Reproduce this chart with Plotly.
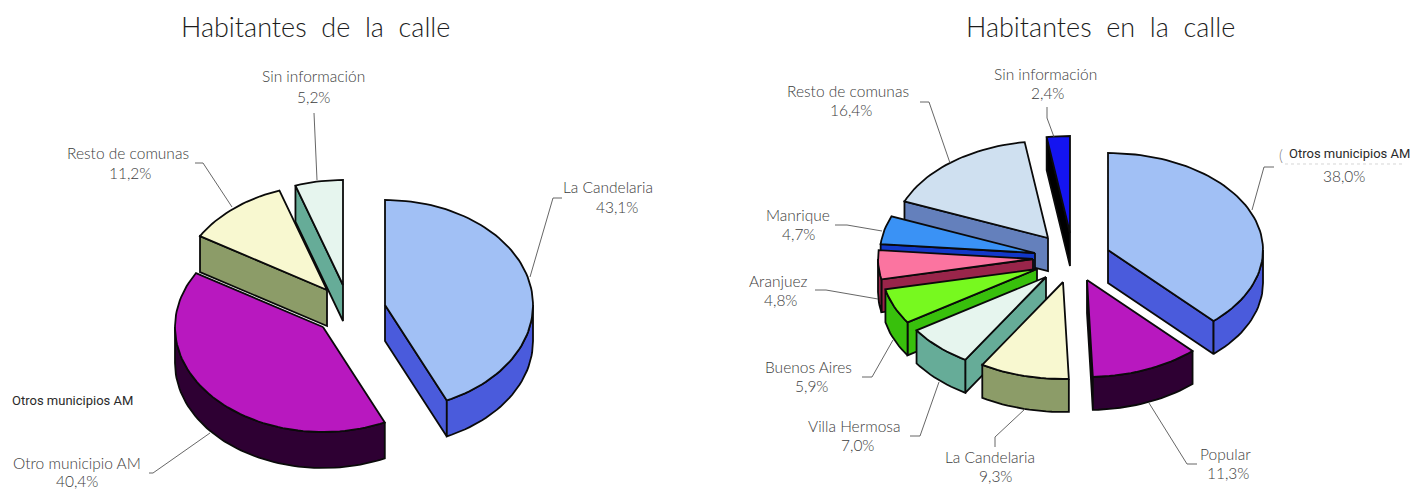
import math
import plotly.graph_objects as go

left_categories = ["La Candelaria", "Otro municipio AM", "Resto de comunas", "Sin información"]
left_values = [43.1, 40.4, 11.2, 5.2]
right_categories = ["Otros municipios AM", "Popular", "La Candelaria", "Villa Hermosa", "Buenos Aires",
                    "Aranjuez", "Manrique", "Resto de comunas", "Sin información"]
right_values = [38.0, 11.3, 9.3, 7.0, 5.9, 4.8, 4.7, 16.4, 2.4]

left_title = "Habitantes  de  la  calle"
right_title = "Habitantes  en  la  calle"
stray_label = "Otros municipios AM"

left_tops = ["#a1c0f5", "#b818bf", "#f8f8d0", "#e6f5ee"]
left_walls = ["#4a5bdc", "#2e0033", "#8c9c68", "#66ac98"]
right_tops = ["#a1c0f5", "#b818bf", "#f8f8d0", "#e6f5ee", "#77f91f", "#fb74a0", "#3a92f5", "#cfe0f0", "#1414f0"]
right_walls = ["#4a5bdc", "#2e0033", "#8c9c68", "#66ac98", "#38c00c", "#99254a", "#1238c8", "#6480bc", "#000000"]

# layout of the exploded pies: centre, radii, depth and per-slice displacement (pixels)
left_pie = dict(cx=345, cy=295, rx=148, ry=105, depth=36,
                shift=[(40, 10), (-22, 32), (-18, -5), (-2, -10)])
right_pie = dict(cx=1060, cy=258, rx=155, ry=97, depth=33,
                 shift=[(48, -8), (27, 22), (3, 24), (-14, 19), (-23, 11), (-27, 1), (-25, -5), (-12, -20), (10, -25)])

left_labels = [(608, 187, 617, 207), (77, 463, 77, 481), (128, 153, 130, 173), (313, 76, 313, 97)]
right_labels = [(1349, 153, 1344, 176), (1225, 454, 1228, 473), (990, 457, 995, 476), (854, 426, 857, 445),
                (808, 367, 811, 386), (778, 281, 780, 300), (798, 215, 798, 234), (848, 91, 851, 110),
                (1045, 74, 1047, 93)]

left_leaders = [[(562, 198), (553, 198), (530, 277)], [(149, 473), (153, 473), (210, 433)],
                [(195, 163), (203, 163), (232, 207)], [(314, 113), (317, 180)]]
right_leaders = [[(1274, 167), (1264, 167), (1252, 210)], [(1197, 464), (1187, 464), (1149, 403)],
                 [(995, 447), (995, 437), (1025, 409)], [(910, 436), (920, 436), (939, 382)],
                 [(862, 377), (872, 377), (893, 340)], [(815, 290), (826, 290), (878, 299)],
                 [(835, 225), (847, 225), (882, 231)], [(920, 102), (929, 102), (950, 163)],
                 [(1047, 107), (1047, 118), (1054, 137)]]

LABEL_FONT = dict(family="Lato", size=15.5, color="#3c3c3c", weight=300)
TITLE_FONT = dict(family="Lato", size=27, color="#1c1c1c", weight=300)
TIGHT_FONT = dict(family="Roboto", size=13, color="#2a2a2a")
fig = go.Figure()


def pt(ax, ay, a, pie):
    r = math.radians(a)
    return ax + pie["rx"] * math.sin(r), ay - pie["ry"] * math.cos(r)


def poly(points, fill):
    xs = [p[0] for p in points] + [points[0][0]]
    ys = [p[1] for p in points] + [points[0][1]]
    fig.add_trace(go.Scatter(x=xs, y=ys, mode="lines", fill="toself", fillcolor=fill,
                             line=dict(color="#0a0a0a", width=1.8), hoverinfo="skip", showlegend=False))


def arc(ax, ay, a1, a2, pie):
    n = max(2, int(abs(a2 - a1) / 2) + 1)
    return [pt(ax, ay, a1 + (a2 - a1) * i / (n - 1), pie) for i in range(n)]


def draw_slice(a1, a2, shift, top, wall, pie):
    ax, ay = pie["cx"] + shift[0], pie["cy"] + shift[1]
    d = pie["depth"]
    faces = []
    if math.sin(math.radians(a1)) < -1e-6:
        faces.append([(ax, ay), pt(ax, ay, a1, pie)])
    if math.sin(math.radians(a2)) > 1e-6:
        faces.append([(ax, ay), pt(ax, ay, a2, pie)])
    for f in faces:
        poly(f + [(x, y + d) for x, y in reversed(f)], wall)
    lo, hi = max(a1, 90), min(a2, 270)
    if hi > lo:
        e = arc(ax, ay, lo, hi, pie)
        poly(e + [(x, y + d) for x, y in reversed(e)], wall)
    poly([(ax, ay)] + arc(ax, ay, a1, a2, pie), top)


def draw_pie(values, tops, walls, pie, order):
    total = sum(values)
    angles = [0]
    for v in values:
        angles.append(angles[-1] + 360 * v / total)
    for i in order:
        draw_slice(angles[i], angles[i + 1], pie["shift"][i], tops[i], walls[i], pie)


draw_pie(left_values, left_tops, left_walls, left_pie, [3, 2, 1, 0])
draw_pie(right_values, right_tops, right_walls, right_pie, [8, 7, 6, 5, 4, 3, 2, 1, 0])

for leader in left_leaders + right_leaders:
    fig.add_trace(go.Scatter(x=[p[0] for p in leader], y=[p[1] for p in leader], mode="lines",
                             line=dict(color="#555555", width=0.9), hoverinfo="skip", showlegend=False))
# faint remnant under the overprinted label of the right-hand chart
fig.add_trace(go.Scatter(x=[1285, 1405], y=[164, 164], mode="lines",
                         line=dict(color="#c4c4c4", width=0.7, dash="dot"), hoverinfo="skip", showlegend=False))


def text(x, y, s, font):
    fig.add_annotation(x=x, y=y, xref="x", yref="y", text=s, showarrow=False, font=font,
                       xanchor="center", yanchor="middle")


def pct(v):
    return f"{v:.1f}%".replace(".", ",")


for cats, vals, labs in [(left_categories, left_values, left_labels), (right_categories, right_values, right_labels)]:
    for c, v, (x1, y1, x2, y2) in zip(cats, vals, labs):
        f = TIGHT_FONT if c == stray_label else LABEL_FONT
        text(x1, y1, c, f)
        text(x2, y2, pct(v), LABEL_FONT)

text(72, 400, stray_label, TIGHT_FONT)
text(1281, 155, "(", dict(family="Lato", size=15, color="#777777", weight=300))
text(315, 26, left_title, TITLE_FONT)
text(1100, 26, right_title, TITLE_FONT)

fig.update_layout(width=1411, height=490, margin=dict(l=0, r=0, t=0, b=0),
                  paper_bgcolor="white", plot_bgcolor="white",
                  xaxis=dict(range=[0, 1411], visible=False, fixedrange=True),
                  yaxis=dict(range=[490, 0], visible=False, fixedrange=True))
fig.write_html("out.html", config=dict(displayModeBar=False),
               post_script="document.body.style.margin='0';document.documentElement.style.overflow='hidden';window.dispatchEvent(new Event('resize'));")
